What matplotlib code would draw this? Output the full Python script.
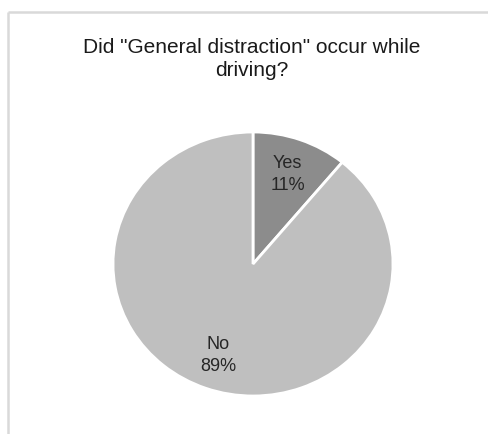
import matplotlib
matplotlib.use("Agg")
import matplotlib.pyplot as plt
from matplotlib.font_manager import fontManager

categories = ["Yes", "No"]
shares = [11, 89]
colors = ["#8c8c8c", "#bfbfbf"]
title = 'Did "General distraction" occur while\ndriving?'

names = {f.name for f in fontManager.ttflist}
family = "Liberation Sans Narrow" if "Liberation Sans Narrow" in names else "Liberation Sans"
plt.rcParams["font.family"] = [family, "DejaVu Sans"]

W, H = 489, 435
fig = plt.figure(figsize=(W / 100, H / 100), dpi=100)

# light grey chart frame (top and left edges visible)
frame = fig.add_axes([0, 0, 1, 1])
frame.set_xlim(0, W)
frame.set_ylim(H, 0)
frame.axis("off")
frame.plot([7.5, W], [13, 13], color="#d9d9d9", lw=1.8, solid_capstyle="butt")
frame.plot([7.5, 7.5], [13, H], color="#d9d9d9", lw=1.8, solid_capstyle="butt")

fig.text(252 / W, 1 - 59 / H, title, ha="center", va="center",
         fontsize=15, color="#1a1a1a", linespacing=1.3)

# pie box: x 113..393, y 133..397
ax = fig.add_axes([113 / W, (H - 397) / H, 280 / W, 264 / H])
wedges, texts = ax.pie(
    shares,
    labels=[f"{c}\n{v}%" for c, v in zip(categories, shares)],
    colors=colors,
    startangle=90,
    counterclock=False,
    labeldistance=0.73,
    wedgeprops=dict(edgecolor="white", linewidth=2),
    textprops=dict(fontsize=13, color="#262626", linespacing=1.35),
)
for t in texts:
    t.set_ha("center")
    t.set_va("center")
ax.set_aspect("auto")
ax.set_xlim(-1, 1)
ax.set_ylim(-1, 1)

fig.savefig("out.png", dpi=100)
